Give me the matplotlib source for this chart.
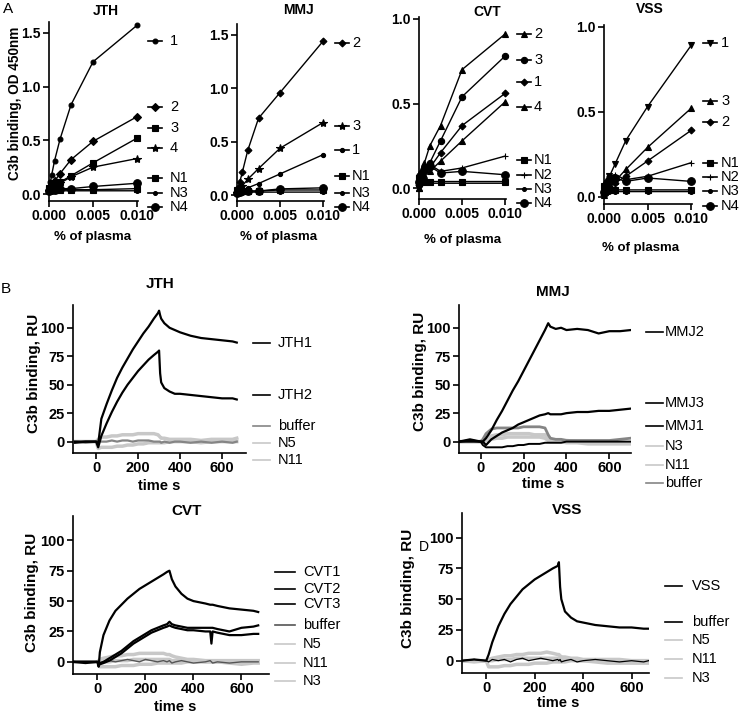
import matplotlib
matplotlib.use("Agg")
import matplotlib.pyplot as plt
from matplotlib.lines import Line2D

plt.rcParams["font.family"] = ["Liberation Sans", "DejaVu Sans"]

# ---------------- panel A data: ELISA, C3b binding vs % plasma ----------------
x_pct = [0, 0.00016, 0.00031, 0.00063, 0.00125, 0.0025, 0.005, 0.01]

jth_1 = [0.05, 0.11, 0.18, 0.31, 0.51, 0.83, 1.23, 1.57]
jth_2 = [0.04, 0.06, 0.09, 0.12, 0.19, 0.32, 0.49, 0.72]
jth_3 = [0.04, 0.05, 0.06, 0.08, 0.11, 0.17, 0.29, 0.52]
jth_4 = [0.03, 0.04, 0.06, 0.08, 0.10, 0.16, 0.25, 0.33]
jth_n1 = [0.06, 0.05, 0.05, 0.04, 0.04, 0.04, 0.04, 0.05]
jth_n3 = [0.02, 0.02, 0.03, 0.03, 0.03, 0.03, 0.03, 0.03]
jth_n4 = [0.03, 0.04, 0.04, 0.04, 0.05, 0.05, 0.07, 0.10]

mmj_2 = [0.03, 0.07, 0.12, 0.22, 0.42, 0.72, 0.96, 1.44]
mmj_3 = [0.02, 0.04, 0.06, 0.09, 0.15, 0.25, 0.44, 0.68]
mmj_1 = [0.02, 0.03, 0.04, 0.05, 0.07, 0.11, 0.20, 0.38]
mmj_n1 = [0.05, 0.05, 0.04, 0.04, 0.04, 0.04, 0.05, 0.05]
mmj_n3 = [0.02, 0.02, 0.02, 0.03, 0.03, 0.03, 0.03, 0.03]
mmj_n4 = [0.02, 0.03, 0.03, 0.04, 0.04, 0.04, 0.06, 0.07]

cvt_2 = [0.00, 0.06, 0.09, 0.15, 0.25, 0.37, 0.70, 0.91]
cvt_3 = [0.02, 0.05, 0.08, 0.12, 0.15, 0.28, 0.54, 0.78]
cvt_1 = [0.02, 0.05, 0.07, 0.10, 0.12, 0.21, 0.37, 0.56]
cvt_4 = [0.00, 0.04, 0.06, 0.08, 0.10, 0.16, 0.28, 0.51]
cvt_n1 = [0.06, 0.05, 0.05, 0.04, 0.04, 0.04, 0.04, 0.04]
cvt_n2 = [0.05, 0.08, 0.10, 0.12, 0.14, 0.10, 0.12, 0.19]
cvt_n3 = [0.02, 0.03, 0.03, 0.03, 0.03, 0.03, 0.03, 0.03]
cvt_n4 = [0.04, 0.07, 0.09, 0.11, 0.13, 0.09, 0.10, 0.08]

vss_1 = [0.02, 0.05, 0.08, 0.12, 0.19, 0.33, 0.53, 0.89]
vss_3 = [0.01, 0.03, 0.05, 0.07, 0.09, 0.16, 0.29, 0.52]
vss_2 = [0.01, 0.03, 0.04, 0.06, 0.08, 0.12, 0.21, 0.39]
vss_n1 = [0.06, 0.05, 0.05, 0.04, 0.04, 0.04, 0.04, 0.04]
vss_n2 = [0.05, 0.08, 0.10, 0.12, 0.13, 0.10, 0.12, 0.20]
vss_n3 = [0.02, 0.03, 0.03, 0.03, 0.03, 0.03, 0.03, 0.03]
vss_n4 = [0.03, 0.06, 0.08, 0.10, 0.11, 0.09, 0.11, 0.09]

# ---------------- panel B data: SPR sensorgrams (RU vs time s) ----------------
t_jth = [-100, -50, 0, 10, 25, 50, 75, 100, 125, 150, 175, 200, 225, 250, 275,
         295, 300, 305, 310, 325, 350, 375, 400, 450, 500, 550, 600, 650, 670]
jth1_ru = [-1, 0, 0, -2, 20, 33, 45, 56, 65, 73, 81, 88, 95, 101, 108,
           113, 115, 111, 108, 104, 100, 98, 96, 93, 91, 90, 89, 88, 87]
jth2_ru = [0, 0, 0, -5, 5, 16, 26, 35, 43, 50, 56, 62, 67, 72, 76,
           79, 80, 60, 52, 47, 44, 42, 42, 41, 40, 39, 38, 38, 37]
jth_buf_ru = [0, -1, 0, 1, 0, 0, 1, 0, 1, 1, 0, 1, 1, 1, 0,
              0, 0, 0, -1, 0, -1, 0, 0, -1, 0, -1, 0, -1, 0]
jth_n5_ru = [0, 0, 0, 2, 4, 4, 5, 5, 6, 6, 6, 7, 7, 7, 7,
             6, 5, 4, 3, 3, 2, 2, 2, 2, 1, 2, 2, 2, 3]
jth_n11_ru = [0, 0, 0, -6, -5, -5, -5, -4, -4, -3, -3, -2, -2, -1, -1,
              -1, -1, -1, -1, -1, 0, 0, 0, 0, -1, 0, 0, 0, 0]

t_mmj = [-100, -50, 0, 10, 25, 50, 75, 100, 125, 150, 175, 200, 225, 250, 275,
         300, 315, 325, 350, 375, 400, 450, 500, 550, 600, 650, 700]
mmj2_ru = [0, 2, 0, 0, 3, 10, 19, 27, 36, 45, 53, 62, 71, 80, 89,
           98, 104, 101, 99, 100, 98, 99, 98, 95, 97, 97, 98]
mmj3_ru = [0, 1, 0, 0, -3, 2, 5, 8, 10, 12, 15, 17, 19, 21, 23,
           24, 25, 24, 24, 24, 25, 26, 26, 27, 27, 28, 29]
mmj1_ru = [0, 0, 0, -3, -5, -5, -5, -5, -4, -4, -3, -3, -2, -2, -2,
           -1, -1, -1, -1, -1, 0, 0, 0, 0, 0, 0, 0]
mmj_n3_ru = [0, 0, 0, 1, 3, 5, 6, 6, 7, 7, 7, 7, 7, 6, 6,
             6, 3, 2, 1, 1, 1, 0, 0, 0, -1, -1, -1]
mmj_n11_ru = [0, 0, 0, 0, 1, 2, 3, 3, 4, 4, 4, 4, 4, 4, 4,
              3, 1, 0, 0, 0, -1, -1, -2, -2, -2, -2, -2]
mmj_buf_ru = [0, 0, 0, 2, 7, 11, 12, 12, 12, 12, 12, 13, 13, 13, 13,
              12, 6, 3, 2, 2, 1, 1, 1, 1, 1, 2, 3]

t_cvt = [-100, -50, 0, 5, 10, 25, 50, 75, 100, 125, 150, 175, 200, 225, 250, 275,
         290, 300, 310, 325, 350, 375, 400, 450, 470, 475, 480, 500, 550, 600, 650, 670]
cvt1_ru = [0, -1, 0, -4, 8, 22, 34, 42, 47, 52, 56, 60, 63, 66, 69, 72,
           74, 75, 68, 62, 56, 52, 50, 48, 47, 47, 47, 46, 44, 43, 42, 41]
cvt2_ru = [0, 0, 0, -2, -1, 0, 3, 6, 9, 13, 17, 20, 23, 26, 28, 30,
           31, 33, 31, 30, 29, 28, 28, 28, 28, 28, 28, 27, 25, 28, 29, 30]
cvt3_ru = [0, 0, 0, -3, -2, -1, 1, 4, 7, 11, 15, 18, 21, 24, 26, 28,
           29, 30, 29, 28, 27, 26, 26, 25, 25, 15, 25, 24, 22, 22, 23, 23]
cvt_buf_ru = [0, 0, 0, 0, -1, 0, 1, 0, 1, 2, 1, 0, 2, 1, 0, 1,
              0, 1, -1, 0, 1, 0, -1, 0, 1, 0, -1, 0, -1, 0, 0, 0]
cvt_n5_ru = [0, 0, 0, 1, 2, 3, 4, 5, 5, 6, 6, 7, 7, 7, 7, 7,
             6, 6, 5, 4, 3, 2, 2, 1, 1, 1, 1, 1, 1, 1, 1, 1]
cvt_n11_ru = [0, 0, 0, -3, -4, -4, -4, -4, -3, -3, -3, -2, -2, -2, -1, -1,
              -1, -1, -1, -1, -1, 0, 0, 0, 0, 0, 0, 0, -1, -2, -1, -1]
cvt_n3_ru = [0, 0, 0, -1, -1, 0, 0, 1, 1, 1, 2, 2, 2, 2, 2, 2,
             2, 2, 1, 1, 1, 1, 1, 0, 0, 0, 0, 0, 0, 0, 0, 0]

t_vss = [-100, -50, 0, 10, 25, 50, 75, 100, 125, 150, 175, 200, 225, 250, 275,
         295, 300, 305, 310, 325, 350, 375, 400, 450, 500, 550, 600, 650, 670]
vss_ru = [0, 1, 0, 5, 15, 28, 38, 46, 52, 58, 62, 66, 69, 72, 75,
          77, 80, 60, 50, 40, 35, 32, 31, 29, 28, 27, 27, 26, 26]
vss_buf_ru = [0, 1, 0, -1, 1, 0, 1, -1, 1, 2, 0, 1, 2, 1, 0,
              1, 0, 1, -1, 0, 1, -1, 0, 1, 0, -1, 0, -1, 0]
vss_n5_ru = [0, 0, 0, 1, 2, 3, 4, 4, 5, 5, 6, 6, 6, 7, 6,
             5, 5, 4, 3, 3, 2, 2, 1, 1, 1, 1, 0, 0, 0]
vss_n11_ru = [0, -1, 0, -5, -5, -5, -4, -4, -3, -3, -3, -2, -2, -2, -1,
              -1, -1, -1, -1, -1, 0, 0, 0, -1, -2, -2, -2, -2, -2]
vss_n3_ru = [0, 0, 0, 0, 0, 1, 1, 1, 2, 2, 2, 2, 2, 2, 2,
             2, 2, 1, 1, 1, 1, 0, 0, 0, 0, 0, 0, 0, 0]

# ---------------- figure helpers (pixel layout) ----------------
W, H = 745, 716
fig = plt.figure(figsize=(W / 100, H / 100), dpi=100)
LIGHT = "#c8c8c8"
MID = "#858585"


def px_axes(l, t, r, b, fs):
    ax = fig.add_axes([l / W, 1 - b / H, (r - l) / W, (b - t) / H])
    ax.patch.set_alpha(0)
    for s in ("top", "right"):
        ax.spines[s].set_visible(False)
    for s in ("left", "bottom"):
        ax.spines[s].set_linewidth(1.2)
    ax.tick_params(direction="out", length=4, width=1.2, labelsize=fs, pad=2)
    return ax


def ftext(x, y, s, ha="center", va="center", **kw):
    fig.text(x / W, 1 - y / H, s, ha=ha, va=va, **kw)


def key(x0, x1, tx, y, label, marker=None, ms=4, color="black", lw=1.2, fs=10.5):
    xm = (x0 + x1) / 2
    ln = Line2D([x0 / W, xm / W, x1 / W], [1 - y / H] * 3, transform=fig.transFigure,
                color=color, lw=lw, marker=marker, markevery=[1], ms=ms,
                markeredgewidth=0.8)
    fig.add_artist(ln)
    ftext(tx, y, label, ha="left", fontsize=fs)


def bold_ticks(ax):
    for lab in ax.get_xticklabels() + ax.get_yticklabels():
        lab.set_fontweight("bold")


# ---------------- panel A ----------------
def panel_a(box, ylim, yticks, series):
    ax = px_axes(*box, fs=10)
    for vals, m, ms in series:
        ax.plot(x_pct, vals, color="black", lw=1.0, marker=m, ms=ms,
                markeredgewidth=0.8, clip_on=False)
    ax.set_xlim(0, 0.0101)
    ax.set_ylim(*ylim)
    ax.set_xticks([0, 0.005, 0.01])
    ax.set_xticklabels(["0.000", "0.005", "0.010"])
    ax.set_yticks(yticks)
    ax.set_yticklabels(["%.1f" % v for v in yticks])
    bold_ticks(ax)
    return ax


panel_a((49, 22, 138, 201), (-0.065, 1.6), [0, 0.5, 1.0, 1.5],
        [(jth_1, "o", 3.5), (jth_2, "D", 4.5), (jth_3, "s", 4.5), (jth_4, "*", 6),
         (jth_n1, "s", 5), (jth_n3, "o", 2.8), (jth_n4, "o", 5.5)])
ftext(106, 11, "JTH", fontsize=10, fontweight="bold")
ftext(15, 103, "C3b binding, OD 450nm", rotation=90, fontsize=9.8, fontweight="bold")
ftext(93, 237, "% of plasma", fontsize=9.5, fontweight="bold")
for y, lab, m, ms in [(41, "1", "o", 3.5), (107, "2", "D", 4.5), (128, "3", "s", 4.5),
                      (148, "4", "*", 6), (178, "N1", "s", 5), (193, "N3", "o", 2.8),
                      (207, "N4", "o", 5.5)]:
    key(148, 162, 170, y, lab, m, ms)

panel_a((237, 24, 324, 201), (-0.053, 1.6), [0, 0.5, 1.0, 1.5],
        [(mmj_2, "D", 3.5), (mmj_3, "*", 6), (mmj_1, "o", 3),
         (mmj_n1, "s", 5), (mmj_n3, "o", 2.8), (mmj_n4, "o", 5.5)])
ftext(299, 10, "MMJ", fontsize=10, fontweight="bold")
ftext(279, 237, "% of plasma", fontsize=9.5, fontweight="bold")
for y, lab, m, ms in [(43, "2", "D", 3.5), (126, "3", "*", 6), (150, "1", "o", 3),
                      (176, "N1", "s", 5), (193, "N3", "o", 2.8), (207, "N4", "o", 5.5)]:
    key(335, 349, 352, y, lab, m, ms)

panel_a((419, 17, 506, 199), (-0.063, 1.01), [0, 0.5, 1.0],
        [(cvt_2, "^", 5), (cvt_3, "o", 4.5), (cvt_1, "D", 3.5), (cvt_4, "^", 5),
         (cvt_n1, "s", 5), (cvt_n2, "+", 4.5), (cvt_n3, "o", 2.8), (cvt_n4, "o", 5.5)])
ftext(487, 12, "CVT", fontsize=10, fontweight="bold")
ftext(463, 240, "% of plasma", fontsize=9.5, fontweight="bold")
for y, lab, m, ms in [(34, "2", "^", 5), (60, "3", "o", 4.5), (82, "1", "D", 3.5),
                      (107, "4", "^", 5), (160, "N1", "s", 5), (175, "N2", "+", 4.5),
                      (189, "N3", "o", 2.8), (203, "N4", "o", 5.5)]:
    key(517, 531, 534, y, lab, m, ms)

panel_a((604, 25, 692, 204), (-0.043, 1.01), [0, 0.5, 1.0],
        [(vss_1, "v", 5), (vss_3, "^", 5), (vss_2, "D", 3.5),
         (vss_n1, "s", 5), (vss_n2, "+", 4.5), (vss_n3, "o", 2.8), (vss_n4, "o", 5.5)])
ftext(650, 9, "VSS", fontsize=10, fontweight="bold")
ftext(641, 248, "% of plasma", fontsize=9.5, fontweight="bold")
for y, lab, m, ms in [(43, "1", "v", 5), (101, "3", "^", 5), (122, "2", "D", 3.5),
                      (163, "N1", "s", 5), (177, "N2", "+", 4.5), (191, "N3", "o", 2.8),
                      (206, "N4", "o", 5.5)]:
    key(703, 717, 721, y, lab, m, ms)


# ---------------- panel B ----------------
def panel_b(box, xlim, traces, t):
    ax = px_axes(*box, fs=10.5)
    for vals, col, lw in traces:
        ax.plot(t, vals, color=col, lw=lw, solid_joinstyle="round")
    ax.set_xlim(*xlim)
    ax.set_ylim(-10, 120)
    ax.set_xticks([0, 200, 400, 600])
    ax.set_yticks([0, 25, 50, 75, 100])
    bold_ticks(ax)
    return ax


panel_b((73, 305, 246, 453), (-110, 714),
        [(jth_n5_ru, LIGHT, 2.5), (jth_n11_ru, LIGHT, 2.5), (jth_buf_ru, MID, 1.6),
         (jth1_ru, "black", 1.6), (jth2_ru, "black", 1.6)], t_jth)
ftext(160, 284, "JTH", fontsize=11, fontweight="bold")
ftext(34, 373, "C3b binding, RU", rotation=90, fontsize=11, fontweight="bold")
ftext(159, 486, "time s", fontsize=10.5, fontweight="bold")
for y, lab, col in [(343, "JTH1", "black"), (395, "JTH2", "black"), (426, "buffer", MID),
                    (443, "N5", LIGHT), (460, "N11", LIGHT)]:
    key(253, 270, 278, y, lab, color=col)

panel_b((459, 305, 631, 453), (-101, 701),
        [(mmj_n3_ru, LIGHT, 2.5), (mmj_n11_ru, LIGHT, 2.5), (mmj_buf_ru, MID, 2.0),
         (mmj2_ru, "black", 1.6), (mmj3_ru, "black", 1.6), (mmj1_ru, "black", 1.4)], t_mmj)
ftext(553, 292, "MMJ", fontsize=11, fontweight="bold")
ftext(420, 371, "C3b binding, RU", rotation=90, fontsize=11, fontweight="bold")
ftext(543, 484, "time s", fontsize=10.5, fontweight="bold")
for y, lab, col in [(332, "MMJ2", "black"), (403, "MMJ3", "black"), (426, "MMJ1", "black"),
                    (446, "N3", LIGHT), (465, "N11", LIGHT), (483, "buffer", MID)]:
    key(646, 663, 665, y, lab, color=col)

panel_b((73, 516, 269, 674), (-102, 715),
        [(cvt_n5_ru, LIGHT, 2.5), (cvt_n11_ru, LIGHT, 2.5), (cvt_n3_ru, LIGHT, 2.5),
         (cvt_buf_ru, "#555555", 1.0), (cvt1_ru, "black", 1.6), (cvt2_ru, "black", 1.6),
         (cvt3_ru, "black", 1.6)], t_cvt)
ftext(187, 511, "CVT", fontsize=11, fontweight="bold")
ftext(32, 592, "C3b binding, RU", rotation=90, fontsize=11, fontweight="bold")
ftext(175, 707, "time s", fontsize=10.5, fontweight="bold")
for y, lab, col in [(572, "CVT1", "black"), (589, "CVT2", "black"), (604, "CVT3", "black"),
                    (625, "buffer", "#555555"), (644, "N5", LIGHT), (663, "N11", LIGHT),
                    (681, "N3", LIGHT)]:
    key(275, 295, 303, y, lab, color=col)

panel_b((462, 513, 649, 673), (-100, 672),
        [(vss_n5_ru, LIGHT, 2.5), (vss_n11_ru, LIGHT, 2.5), (vss_n3_ru, LIGHT, 2.5),
         (vss_buf_ru, "black", 0.9), (vss_ru, "black", 1.6)], t_vss)
ftext(567, 510, "VSS", fontsize=11, fontweight="bold")
ftext(408, 588, "C3b binding, RU", rotation=90, fontsize=11, fontweight="bold")
ftext(558, 703, "time s", fontsize=10.5, fontweight="bold")
ftext(424, 547, "D", fontsize=10)
for y, lab, col in [(586, "VSS", "black"), (622, "buffer", "black"), (640, "N5", LIGHT),
                    (659, "N11", LIGHT), (678, "N3", LIGHT)]:
    key(665, 682, 692, y, lab, color=col)

ftext(8, 9, "A", fontsize=11)
ftext(6, 289, "B", fontsize=11)

fig.savefig("out.png", dpi=100)
